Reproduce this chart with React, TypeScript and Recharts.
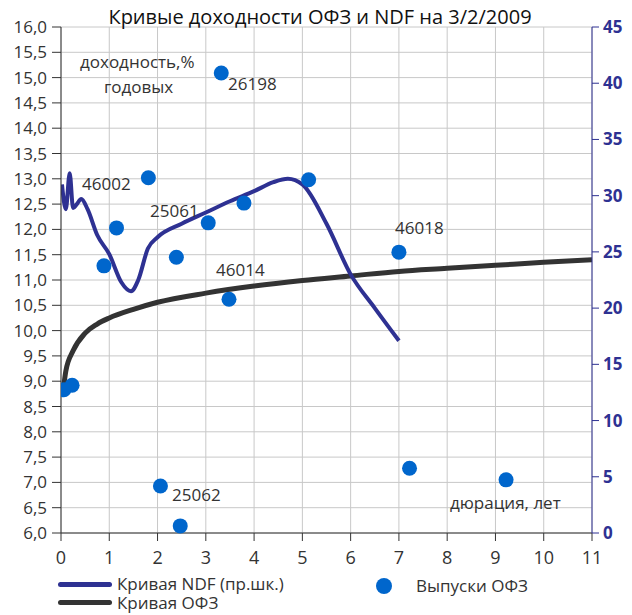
import { ComposedChart, Line, Scatter, XAxis, YAxis, CartesianGrid } from 'recharts'

const durationTicks = [0, 1, 2, 3, 4, 5, 6, 7, 8, 9, 10, 11]
const yieldTicks = [6, 6.5, 7, 7.5, 8, 8.5, 9, 9.5, 10, 10.5, 11, 11.5, 12, 12.5, 13, 13.5, 14, 14.5, 15, 15.5, 16]
const ndfTicks = [0, 5, 10, 15, 20, 25, 30, 35, 40, 45]

// Выпуски ОФЗ (left axis)
const issueDuration = [0.06, 0.23, 0.89, 1.15, 1.81, 2.06, 2.39, 2.47, 3.05, 3.32, 3.48, 3.79, 5.13, 7.0, 7.22, 9.22]
const issueYield = [8.83, 8.92, 11.28, 12.03, 13.02, 6.93, 11.45, 6.14, 12.13, 15.09, 10.62, 12.52, 12.98, 11.55, 7.28, 7.05]

// Кривая ОФЗ (left axis)
const curveDuration = [0.05, 0.1, 0.25, 0.5, 0.75, 1, 1.5, 2, 3, 4, 5, 6, 7, 8, 9, 10, 11]
const curveYield = [8.85, 9.2, 9.6, 9.95, 10.13, 10.25, 10.42, 10.56, 10.74, 10.88, 10.99, 11.08, 11.17, 11.23, 11.29, 11.35, 11.4]

// Кривая NDF (right axis)
const ndfDuration = [0.02, 0.1, 0.18, 0.25, 0.32, 0.42, 0.55, 0.75, 1.0, 1.25, 1.45, 1.6, 1.8, 2.0, 2.5, 3.0, 3.5, 4.0, 4.4, 4.7, 5.0, 5.5, 6.0, 6.5, 7.0]
const ndfYield = [31.0, 28.8, 32.0, 28.9, 29.2, 29.7, 28.8, 26.5, 24.8, 22.3, 21.5, 22.5, 25.3, 26.3, 27.5, 28.5, 29.5, 30.4, 31.2, 31.5, 31.0, 27.5, 23.0, 20.0, 17.1]

const issues = issueDuration.map((x, i) => ({ x, y: issueYield[i] }))
const ofzCurve = curveDuration.map((x, i) => ({ x, y: curveYield[i] }))
const ndfCurve = ndfDuration.map((x, i) => ({ x, r: ndfYield[i] }))

const font = '"Open Sans", sans-serif'
const textColor = '#333333'
const navy = '#2e3192'
const dotBlue = '#0066cc'

const notes = [
  { text: 'доходность,%', left: 80, top: 52 },
  { text: 'годовых', left: 104, top: 77 },
  { text: '26198', left: 228, top: 74 },
  { text: '46002', left: 82, top: 174 },
  { text: '25061', left: 150, top: 201 },
  { text: '46014', left: 216, top: 260 },
  { text: '46018', left: 395, top: 218 },
  { text: '25062', left: 172, top: 485 },
  { text: 'дюрация, лет', left: 450, top: 493 }
]

export default function App() {
  return (
    <div style={{ position: 'relative', width: 632, height: 615, margin: '-8px 0 0 -8px', fontFamily: font, color: textColor, overflow: 'hidden' }}>
      <ComposedChart width={632} height={615} margin={{ top: 27, right: 0, left: 0, bottom: 42 }}>
        <CartesianGrid yAxisId="left" stroke="#c8c8c8" />
        <XAxis
          type="number"
          dataKey="x"
          domain={[0, 11]}
          ticks={durationTicks}
          height={40}
          tickSize={8}
          tickMargin={10}
          stroke="#333"
          tick={{ fill: textColor, fontSize: 18, fontFamily: font }}
          allowDataOverflow
        />
        <YAxis
          yAxisId="left"
          type="number"
          domain={[6, 16]}
          ticks={yieldTicks}
          interval={0}
          width={61}
          tickSize={9}
          tickMargin={5}
          stroke="#333"
          tickFormatter={(v: number) => v.toFixed(1).replace('.', ',')}
          tick={{ fill: textColor, fontSize: 17, fontFamily: font }}
        />
        <YAxis
          yAxisId="right"
          orientation="right"
          type="number"
          domain={[0, 45]}
          ticks={ndfTicks}
          interval={0}
          width={40}
          tickSize={7}
          tickMargin={4}
          stroke={navy}
          tick={{ fill: navy, fontSize: 17, fontWeight: 700, fontFamily: font }}
        />
        <Line
          yAxisId="left"
          data={ofzCurve}
          dataKey="y"
          type="monotone"
          stroke="#333333"
          strokeWidth={5}
          dot={false}
          isAnimationActive={false}
        />
        <Line
          yAxisId="right"
          data={ndfCurve}
          dataKey="r"
          type="monotone"
          stroke={navy}
          strokeWidth={4}
          dot={false}
          isAnimationActive={false}
        />
        <Scatter
          yAxisId="left"
          data={issues}
          dataKey="y"
          fill={dotBlue}
          shape={(p: any) => <circle cx={p.cx} cy={p.cy} r={7.5} fill={dotBlue} />}
          isAnimationActive={false}
        />
      </ComposedChart>

      <div style={{ position: 'absolute', left: 0, width: 640, top: 5, textAlign: 'center', fontSize: 20, lineHeight: '24px', color: '#111' }}>
        Кривые доходности ОФЗ и NDF на 3/2/2009
      </div>

      {notes.map((n) => (
        <div key={n.text} style={{ position: 'absolute', left: n.left, top: n.top, fontSize: 17, lineHeight: '20px', whiteSpace: 'nowrap' }}>
          {n.text}
        </div>
      ))}

      {/* legend */}
      <div style={{ position: 'absolute', left: 58, top: 582, width: 54, height: 5, borderRadius: 3, background: navy }} />
      <div style={{ position: 'absolute', left: 117, top: 575, fontSize: 17, lineHeight: '18px', whiteSpace: 'nowrap' }}>Кривая NDF (пр.шк.)</div>
      <div style={{ position: 'absolute', left: 376, top: 578, width: 16, height: 16, borderRadius: 8, background: dotBlue }} />
      <div style={{ position: 'absolute', left: 416, top: 577, fontSize: 17, lineHeight: '18px', whiteSpace: 'nowrap' }}>Выпуски ОФЗ</div>
      <div style={{ position: 'absolute', left: 58, top: 600, width: 54, height: 5, borderRadius: 3, background: '#333' }} />
      <div style={{ position: 'absolute', left: 117, top: 594, fontSize: 17, lineHeight: '18px', whiteSpace: 'nowrap' }}>Кривая ОФЗ</div>
    </div>
  )
}
